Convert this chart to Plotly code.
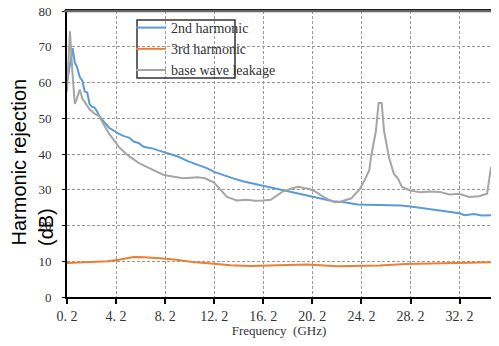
import plotly.graph_objects as go

# ---------------- data ----------------
freq_2nd = [0.2, 0.45, 0.66, 0.84, 1.0, 1.24, 1.45, 1.64, 1.85, 2.04, 2.25, 2.44, 2.64, 2.84,
            3.24, 3.64, 4.04, 4.44, 4.84, 5.24, 5.64, 6.04, 6.44, 6.84, 7.24, 7.64, 8.04, 8.44,
            9.24, 10.04, 10.84, 11.64, 12.2, 13.0, 13.8, 14.6, 15.4, 16.2, 17.0, 17.8, 18.6,
            19.4, 20.2, 21.0, 21.9, 22.8, 23.9, 24.6, 25.4, 26.6, 27.4, 28.2, 29.0, 29.8, 30.6,
            31.4, 32.2, 32.6, 33.4, 34.0, 34.76]
val_2nd = [60.0, 66.0, 69.6, 65.5, 64.5, 61.5, 60.5, 57.5, 57.2, 54.0, 53.2, 53.0, 52.0, 50.5,
           48.8, 47.3, 46.5, 45.6, 45.0, 44.6, 43.5, 43.1, 42.0, 41.8, 41.5, 41.0, 40.6, 40.1,
           39.3, 38.0, 36.9, 36.0, 35.0, 34.0, 33.1, 32.3, 31.7, 31.2, 30.5, 29.8, 29.3,
           28.8, 28.0, 27.5, 26.8, 26.5, 25.9, 25.8, 25.8, 25.6, 25.6, 25.3, 24.9, 24.4, 24.1,
           23.8, 23.4, 22.9, 23.2, 22.8, 22.9]

freq_3rd = [0.2, 1.24, 2.3, 3.5, 4.44, 5.3, 5.64, 6.5, 7.3, 8.04, 9.1, 10.4, 12.2, 13.5, 15.1,
            16.2, 17.2, 18.0, 19.8, 22.2, 24.1, 25.7, 27.8, 29.9, 32.0, 34.76]
val_3rd = [9.5, 9.6, 9.8, 10.0, 10.4, 10.9, 11.2, 11.1, 11.0, 10.8, 10.4, 9.8, 9.3, 8.9, 8.7,
           8.8, 9.0, 8.9, 9.1, 8.6, 8.6, 8.8, 9.2, 9.4, 9.6, 9.7]

freq_base = [0.2, 0.44, 0.66, 0.84, 1.0, 1.24, 1.45, 1.64, 2.04, 2.44, 2.84, 3.24, 3.64, 4.04,
             4.44, 4.84, 5.24, 5.64, 6.04, 6.44, 6.84, 7.24, 7.64, 8.04, 8.44, 8.84, 9.24, 9.64,
             10.04, 10.84, 11.44, 11.88, 12.18, 12.44, 12.98, 13.24, 13.78, 14.04, 14.84, 15.5,
             16.18, 16.8, 17.24, 17.78, 18.58, 19.08, 19.5, 19.88, 20.3, 20.68, 21.0, 21.5,
             22.04, 22.4, 22.84, 23.38, 23.64, 24.04, 24.44, 24.84, 24.98, 25.38, 25.6, 25.85,
             26.04, 26.44, 26.84, 27.2, 27.5, 28.18, 28.98, 29.8, 30.58, 31.38, 32.18, 32.98,
             33.78, 34.44, 34.76]
val_base = [57.5, 74.3, 62.0, 54.0, 55.5, 58.0, 55.5, 54.5, 52.5, 51.3, 50.5, 48.0, 45.6, 43.8,
            41.9, 40.6, 39.4, 38.5, 37.5, 36.8, 36.2, 35.5, 34.8, 34.2, 33.9, 33.6, 33.5, 33.2,
            33.3, 33.5, 33.2, 32.5, 32.0, 31.0, 29.0, 28.0, 27.3, 27.0, 27.2, 26.9,
            27.0, 27.2, 28.2, 29.5, 30.4, 30.8, 30.5, 30.3, 29.8, 28.9, 28.2, 27.3,
            26.5, 26.6, 27.0, 27.6, 28.6, 30.0, 32.6, 35.5, 39.1, 46.5, 54.3, 54.3,
            46.5, 39.1, 34.5, 33.0, 30.8, 29.8, 29.3, 29.5, 29.4, 28.7, 28.9, 28.0,
            28.2, 28.9, 36.3]

x_tick_vals = [0.2, 4.2, 8.2, 12.2, 16.2, 20.2, 24.2, 28.2, 32.2]
x_tick_text = ["0. 2", "4. 2", "8. 2", "12. 2", "16. 2", "20. 2", "24. 2", "28. 2", "32. 2"]
y_tick_vals = [0, 10, 20, 30, 40, 50, 60, 70, 80]

series_names = ["2nd harmonic", "3rd harmonic", "base wave leakage"]
series_colors = ["#5B9BD5", "#ED7D31", "#A5A5A5"]

# ---------------- figure ----------------
OFF = 8                      # page body margin in the browser
W, H = 483, 330              # keep the page from overflowing the window
PL, PR, PT, PB = 67, OFF + W, 11, 297   # plot area in page pixels
L, R, T, B = PL - OFF, 0, PT - OFF, OFF + H - PB
pw, ph = PR - PL, PB - PT
x_end = 34.76

def px_x(px):
    return (px - PL) / pw

def px_y(py):
    return (PB - py) / ph

fig = go.Figure()
for fx, vy, name, col in zip([freq_2nd, freq_3rd, freq_base],
                              [val_2nd, val_3rd, val_base],
                              series_names, series_colors):
    fig.add_trace(go.Scatter(x=fx, y=vy, mode="lines", name=name,
                             line=dict(color=col, width=2)))

serif = "Liberation Serif"
fig.update_layout(
    width=W, height=H,
    margin=dict(l=L, r=R, t=T, b=B, autoexpand=False),
    paper_bgcolor="white", plot_bgcolor="white",
    showlegend=True,
    legend=dict(x=px_x(131), y=px_y(12), xanchor="left", yanchor="top",
                bgcolor="rgba(0,0,0,0)", borderwidth=0,
                font=dict(family=serif, size=14, color="#333333"),
                tracegroupgap=0),
    xaxis=dict(range=[0.2, x_end], tickmode="array",
               tickvals=x_tick_vals, ticktext=x_tick_text,
               showgrid=True, gridcolor="#9a9a9a", griddash="3px,2px", gridwidth=1,
               showline=True, linecolor="black", linewidth=2, mirror=True,
               ticks="outside", ticklen=5, tickcolor="black", tickwidth=1.5,
               tickfont=dict(family=serif, size=14, color="#333333"),
               ticklabeloverflow="allow",
               zeroline=False,
               title=dict(text="Frequency  (GHz)",
                          font=dict(family=serif, size=13, color="#333333"),
                          standoff=6)),
    yaxis=dict(range=[0, 80], tickmode="array", tickvals=y_tick_vals,
               showgrid=True, gridcolor="#9a9a9a", griddash="3px,2px", gridwidth=1,
               showline=True, linecolor="black", linewidth=2,
               ticks="outside", ticklen=3, tickcolor="black", tickwidth=1,
               ticklabelstandoff=8, ticklabeloverflow="allow",
               tickfont=dict(family=serif, size=13, color="#333333"),
               zeroline=False),
)

# top border line (plot-area top), dark grey dashed over the black mirror line
fig.add_shape(type="line", xref="paper", yref="paper", x0=px_x(64), x1=1, y0=1, y1=1,
              line=dict(color="#666666", width=2.5))
# legend frame
fig.add_shape(type="rect", xref="paper", yref="paper",
              x0=px_x(137), x1=px_x(235), y0=px_y(78), y1=px_y(20),
              line=dict(color="#333333", width=1.5))

# y-axis title (two lines, start-aligned)
fig.add_annotation(text="Harmonic rejection", textangle=-90, showarrow=False,
                   xref="paper", yref="paper", x=px_x(18), y=px_y(248),
                   xanchor="center", yanchor="bottom",
                   font=dict(family="Liberation Sans", size=20, color="black"))
fig.add_annotation(text="(dB)", textangle=-90, showarrow=False,
                   xref="paper", yref="paper", x=px_x(46), y=px_y(248),
                   xanchor="center", yanchor="bottom",
                   font=dict(family="Liberation Sans", size=20, color="black"))

fig.write_html("out.html")
